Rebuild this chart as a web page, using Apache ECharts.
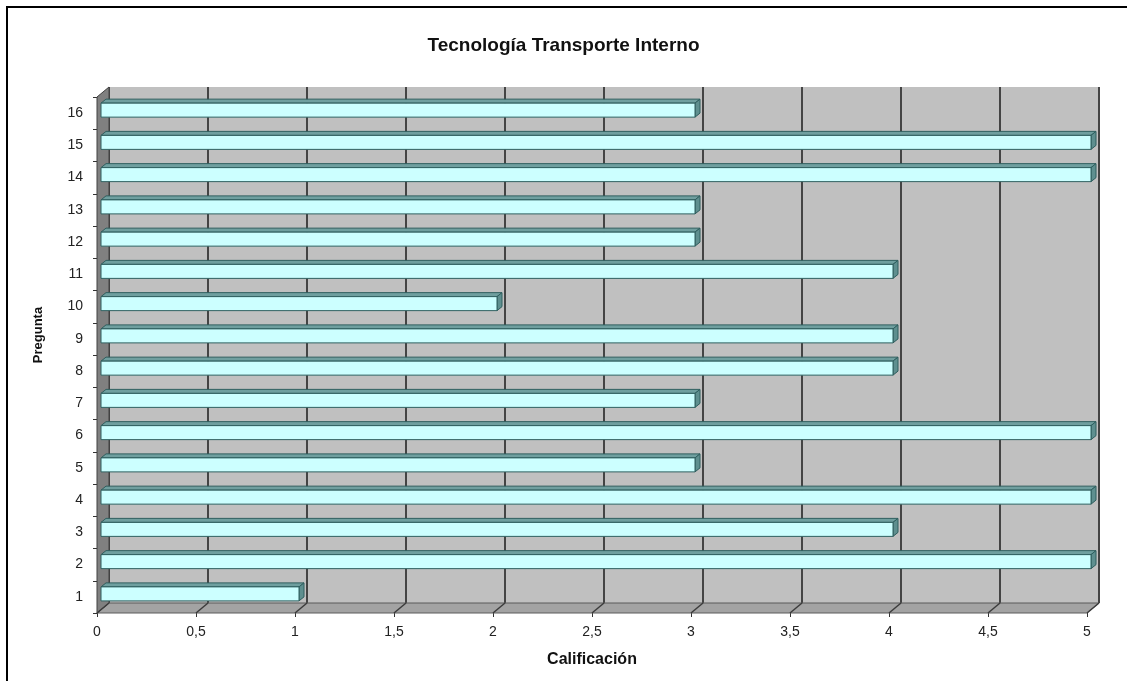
<!DOCTYPE html>
<html>
<head>
<meta charset="utf-8">
<script src="https://cdn.jsdelivr.net/npm/echarts@6/dist/echarts.min.js"></script>
<style>
html,body{margin:0;padding:0;background:#fff;}
#c{width:1127px;height:681px;}
</style>
</head>
<body>
<div id="c"></div>
<script>
var categories = ['1','2','3','4','5','6','7','8','9','10','11','12','13','14','15','16'];
var values = [1,5,4,5,3,5,3,4,4,2,4,3,3,5,5,3];
var xTicks = [0,0.5,1,1.5,2,2.5,3,3.5,4,4.5,5];
var titleText = 'Tecnología Transporte Interno';
var xName = 'Calificación';
var yName = 'Pregunta';

var DX = 12, DY = -10;      // wall depth offset
var BX = 4, BY = -3;        // bar front-face offset
var BDX = 5, BDY = -4;      // bar depth
var BAR_H = 14;
var FONT = '"Liberation Sans", Arial, sans-serif';

var chart = echarts.init(document.getElementById('c'), null, {renderer:'canvas'});

function fmt(v){ return String(v).replace('.', ','); }

var barData = values.map(function(v,i){ return [v, i]; });

var option = {
  backgroundColor:'#ffffff',
  animation:false,
  title:{
    text:titleText, left:'center', top:31,
    textStyle:{fontFamily:FONT, fontSize:19, fontWeight:'bold', color:'#111'}
  },
  graphic:[
    {type:'rect', shape:{x:7,y:7,width:1300,height:900}, style:{fill:'none', stroke:'#000', lineWidth:2}, silent:true},
    {type:'text', x:38, y:335, rotation:Math.PI/2, style:{text:yName, fontFamily:FONT, fontSize:13, fontWeight:'bold', fill:'#111', align:'center', verticalAlign:'middle'}}
  ],
  grid:[
    {left:109, right:28, top:87, bottom:78, show:true, backgroundColor:'#c0c0c0', borderWidth:0},
    {left:97, right:40, top:97, bottom:68}
  ],
  xAxis:[
    {gridIndex:0, type:'value', min:0, max:5, interval:0.5,
     axisLine:{show:false}, axisTick:{show:false}, axisLabel:{show:false},
     splitLine:{show:true, lineStyle:{color:'#444444', width:2}}},
    {gridIndex:1, type:'value', min:0, max:5, interval:0.5,
     axisLine:{show:false},
     axisTick:{show:true, length:4, lineStyle:{color:'#333'}},
     axisLabel:{formatter:fmt, margin:12, fontFamily:FONT, fontSize:14, color:'#222'},
     splitLine:{show:false},
     name:xName, nameLocation:'middle', nameGap:39,
     nameTextStyle:{fontFamily:FONT, fontSize:16, fontWeight:'bold', color:'#111'}}
  ],
  yAxis:[
    {gridIndex:0, type:'category', data:categories, show:false},
    {gridIndex:1, type:'category', data:categories,
     axisLine:{show:false},
     axisTick:{show:true, length:4, lineStyle:{color:'#333'}},
     axisLabel:{margin:14, fontFamily:FONT, fontSize:14, color:'#222'},
     splitLine:{show:false}}
  ],
  series:[
    {
      type:'custom', xAxisIndex:1, yAxisIndex:1, z:1, silent:true,
      data:[[0,0]],
      renderItem:function(params, api){
        var cs = params.coordSys;
        var x0 = cs.x, y0 = cs.y, x1 = cs.x + cs.width, y1 = cs.y + cs.height;
        var children = [];
        children.push({type:'polygon', shape:{points:[[x0,y1],[x1,y1],[x1+DX,y1+DY],[x0+DX,y1+DY]]},
          style:{fill:'#a3a3a3', stroke:'#5a5a5a', lineWidth:1}});
        children.push({type:'polygon', shape:{points:[[x0,y0],[x0+DX,y0+DY],[x0+DX,y1+DY],[x0,y1]]},
          style:{fill:'#808080', stroke:'#404040', lineWidth:1}});
        xTicks.forEach(function(t){
          var p = api.coord([t, 0]);
          children.push({type:'line', shape:{x1:p[0], y1:y1, x2:p[0]+DX, y2:y1+DY},
            style:{stroke:'#3c3c3c', lineWidth:1.5}});
        });
        return {type:'group', children:children};
      }
    },
    {
      type:'custom', xAxisIndex:1, yAxisIndex:1, z:5, silent:true,
      data:barData,
      encode:{x:0, y:1},
      renderItem:function(params, api){
        var s = api.coord([0, api.value(1)]);
        var e = api.coord([api.value(0), api.value(1)]);
        var xs = s[0] + BX, xe = e[0] + BX;
        var yc = s[1] + BY;
        var yt = yc - BAR_H/2, yb = yc + BAR_H/2;
        var stroke = '#2f5f5f';
        return {type:'group', children:[
          {type:'polygon', shape:{points:[[xs,yt],[xs+BDX,yt+BDY],[xe+BDX,yt+BDY],[xe,yt]]},
            style:{fill:'#6f9f9f', stroke:stroke, lineWidth:1}},
          {type:'polygon', shape:{points:[[xe,yt],[xe+BDX,yt+BDY],[xe+BDX,yb+BDY],[xe,yb]]},
            style:{fill:'#5e8f8f', stroke:stroke, lineWidth:1}},
          {type:'rect', shape:{x:xs, y:yt, width:xe-xs, height:BAR_H},
            style:{fill:'#ccffff', stroke:stroke, lineWidth:1}}
        ]};
      }
    }
  ]
};
chart.setOption(option);
</script>
</body>
</html>
